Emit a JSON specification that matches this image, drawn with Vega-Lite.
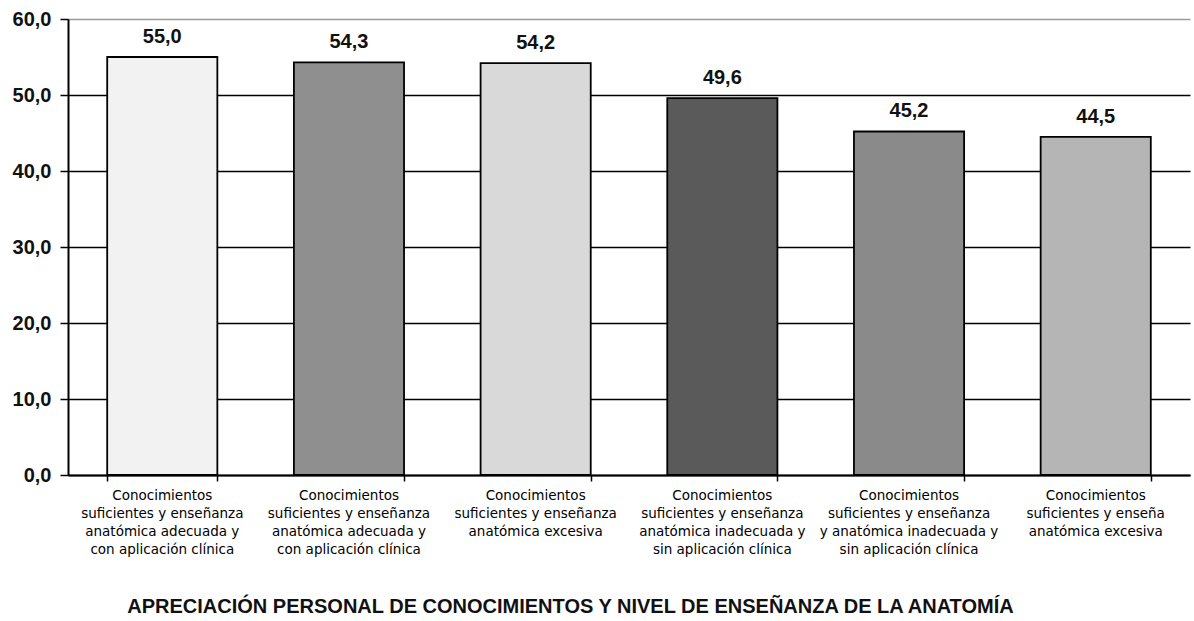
{
  "$schema": "https://vega.github.io/schema/vega-lite/v6.json",
  "width": 1109,
  "height": 456,
  "autosize": "none",
  "padding": {"left": 68, "top": 19, "right": 17, "bottom": 146},
  "background": "white",
  "config": {
    "locale": {"number": {"decimal": ",", "thousands": ".", "grouping": [3], "currency": ["", " €"]}},
    "view": {"stroke": null},
    "font": "Liberation Sans"
  },
  "data": {
    "values": [
      {"id": 1, "valor": 55.0, "etiqueta": "Conocimientos|suficientes y enseñanza|anatómica adecuada y|con aplicación clínica", "tono": "#f2f2f2"},
      {"id": 2, "valor": 54.3, "etiqueta": "Conocimientos|suficientes y enseñanza|anatómica adecuada y|con aplicación clínica", "tono": "#8f8f8f"},
      {"id": 3, "valor": 54.2, "etiqueta": "Conocimientos|suficientes y enseñanza|anatómica excesiva", "tono": "#d9d9d9"},
      {"id": 4, "valor": 49.6, "etiqueta": "Conocimientos|suficientes y enseñanza|anatómica inadecuada y|sin aplicación clínica", "tono": "#5a5a5a"},
      {"id": 5, "valor": 45.2, "etiqueta": "Conocimientos|suficientes y enseñanza|y anatómica inadecuada y|sin aplicación clínica", "tono": "#8a8a8a"},
      {"id": 6, "valor": 44.5, "etiqueta": "Conocimientos|suficientes y enseña|anatómica excesiva", "tono": "#b5b5b5"}
    ]
  },
  "encoding": {
    "x": {
      "field": "id",
      "type": "ordinal",
      "scale": {"range": [0, 1122], "paddingInner": 0.41, "paddingOuter": 0.21},
      "axis": {
        "labels": false,
        "title": "APRECIACIÓN PERSONAL DE CONOCIMIENTOS Y NIVEL DE  ENSEÑANZA DE LA ANATOMÍA",
        "titleFont": "Liberation Sans",
        "titleFontSize": 20,
        "titleFontWeight": "bold",
        "titleColor": "#111",
        "titleX": 502,
        "titleY": 131,
        "titleBaseline": "middle",
        "titleAnchor": null,
        "titleAlign": "center",
        "domainColor": "black",
        "domainWidth": 2,
        "tickColor": "black",
        "tickWidth": 1.5,
        "tickSize": 6,
        "tickBand": "extent",
        "grid": false
      }
    }
  },
  "layer": [
    {
      "mark": {"type": "bar", "stroke": "black", "strokeWidth": 1.8},
      "encoding": {
        "y": {
          "field": "valor",
          "type": "quantitative",
          "scale": {"domain": [0, 60], "nice": false},
          "axis": {
            "values": [0, 10, 20, 30, 40, 50, 60],
            "format": ".1f",
            "title": null,
            "labelFont": "Liberation Sans",
            "labelFontSize": 20,
            "labelFontWeight": "bold",
            "labelColor": "#111",
            "labelPadding": 9,
            "tickSize": 8,
            "tickColor": "black",
            "tickWidth": 1.5,
            "domainColor": "black",
            "domainWidth": 2,
            "grid": true,
            "gridColor": {"condition": {"test": "datum.value == 60", "value": "#9a9a9a"}, "value": "black"},
            "gridWidth": 1.6,
            "gridOpacity": 1
          }
        },
        "fill": {"field": "tono", "type": "nominal", "scale": null, "legend": null}
      }
    },
    {
      "mark": {"type": "text", "baseline": "bottom", "dy": -10, "fontSize": 20, "fontWeight": "bold", "font": "Liberation Sans", "color": "#111"},
      "encoding": {
        "y": {"field": "valor", "type": "quantitative"},
        "text": {"field": "valor", "type": "quantitative", "format": ".1f"}
      }
    },
    {
      "mark": {"type": "text", "baseline": "top", "dy": 14, "fontSize": 13.5, "lineHeight": 18, "lineBreak": "|", "font": "DejaVu Sans", "color": "black"},
      "encoding": {
        "y": {"datum": 0, "type": "quantitative"},
        "text": {"field": "etiqueta", "type": "nominal"}
      }
    }
  ]
}
